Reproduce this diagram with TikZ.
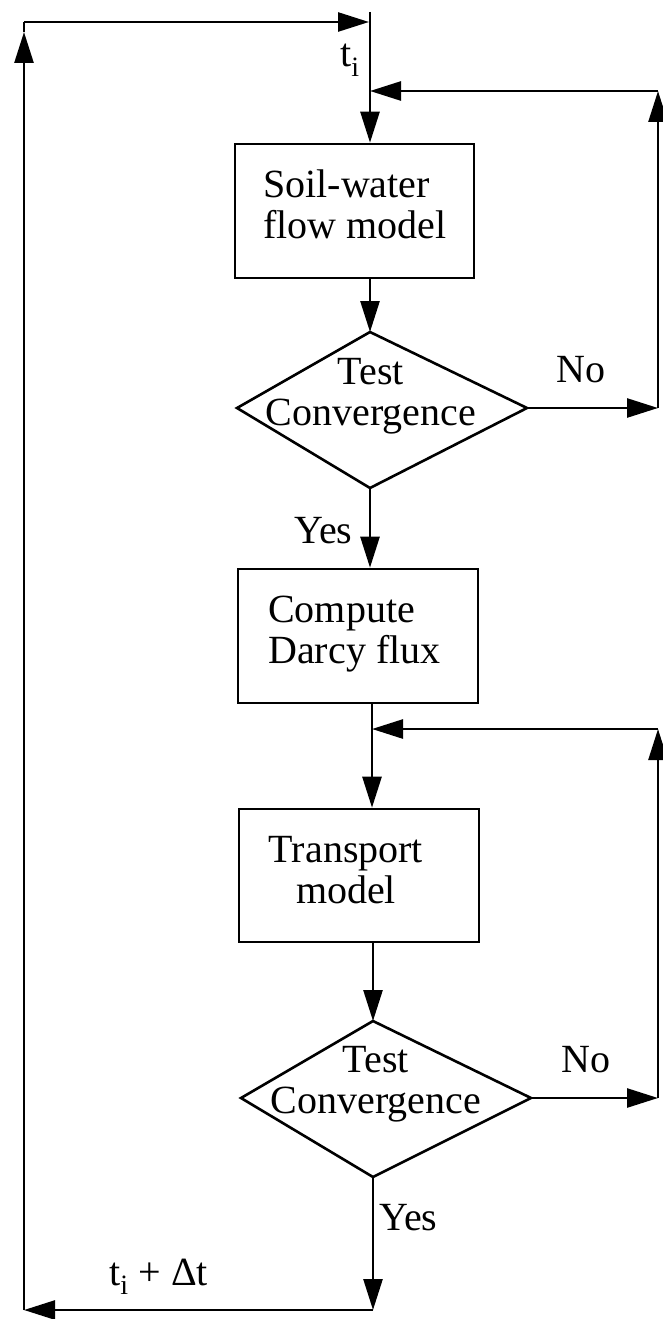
\documentclass[tikz,border=0pt]{standalone}
\usepackage{fontspec}
\setmainfont{Liberation Serif}
\usetikzlibrary{arrows.meta}
\begin{document}
\begin{tikzpicture}[x=1pt,y=-1pt,
  line width=2.6pt,
  arr/.style={-{Triangle[length=31pt,width=19pt]}},
  box/.style={draw, rectangle, inner sep=0pt},
  lbl/.style={font=\fontsize{40}{41}\selectfont, inner sep=0pt},
]
\useasboundingbox (0,0) rectangle (663,1319);
\fill[white] (0,0) rectangle (663,1319);

% boxes
\node[box, minimum width=239pt, minimum height=134pt] (b1) at (354.5,211) {};
\node[box, minimum width=240pt, minimum height=134pt] (b2) at (358,636) {};
\node[box, minimum width=240pt, minimum height=133pt] (b3) at (359,875.5) {};

\node[lbl, align=left, anchor=base west] (t1) at (262,238) {Soil-water\\flow model};
\node[lbl, align=left, anchor=base west] (t2) at (267,663) {Compute\\Darcy flux};
\node[lbl, align=center, anchor=base] (t3) at (346,903) {Transport\\model};

% diamonds
\coordinate (d1t) at (370,332);
\coordinate (d1l) at (237,408);
\coordinate (d1r) at (527,408);
\coordinate (d1b) at (370,488);
\draw (d1t) -- (d1r) -- (d1b) -- (d1l) -- cycle;
\node[lbl, align=center, anchor=base] (td1) at (371,425) {Test\\Convergence};

\coordinate (d2t) at (373,1021);
\coordinate (d2l) at (241,1098);
\coordinate (d2r) at (531,1098);
\coordinate (d2b) at (373,1177);
\draw (d2t) -- (d2r) -- (d2b) -- (d2l) -- cycle;
\node[lbl, align=center, anchor=base] (td2) at (376,1113) {Test\\Convergence};

% key points
\coordinate (top) at (370,12);
\coordinate (j1) at (370,91);
\coordinate (r1) at (658,408);
\coordinate (r1t) at (658,91);
\coordinate (j2) at (372,729);
\coordinate (r2) at (658,1098);
\coordinate (r2t) at (658,729);
\coordinate (bb) at (373,1310);
\coordinate (bl) at (24,1310);
\coordinate (la) at (24,32);
\coordinate (tl) at (24,22);
\coordinate (tm) at (369,22);

% connectors
\draw[arr] (top) -- (top |- b1.north);
\draw[arr] (top |- b1.south) -- (d1t);
\draw[arr] (d1r) -- (r1);
\draw[arr] (r1) -- (r1t);
\draw[arr] (r1t) -- (j1);
\draw[arr] (d1b) -- (d1b |- b2.north);
\draw[arr] (j2 |- b2.south) -- (j2 |- b3.north);
\draw[arr] (d2r) -- (r2);
\draw[arr] (r2) -- (r2t);
\draw[arr] (r2t) -- (j2);
\draw[arr] (d2t |- b3.south) -- (d2t);
\draw[arr] (d2b) -- (bb);
\draw[arr] (bb) -- (bl);
\draw[arr] (bl) -- (la);
\draw (la) -- (tl);
\draw[arr] (tl) -- (tm);

% labels
\node[lbl, anchor=base west] (lti) at (339,67) {t\textsubscript{i}};
\node[lbl, anchor=base west] (no1) at (555,382) {No};
\node[lbl, anchor=base west] (yes1) at (293,543) {Yes};
\node[lbl, anchor=base west] (no2) at (560,1072) {No};
\node[lbl, anchor=base west] (yes2) at (378,1230) {Yes};
\node[lbl, anchor=base west] (ltd) at (108,1285) {t\textsubscript{i} + Δt};
\end{tikzpicture}
\end{document}
